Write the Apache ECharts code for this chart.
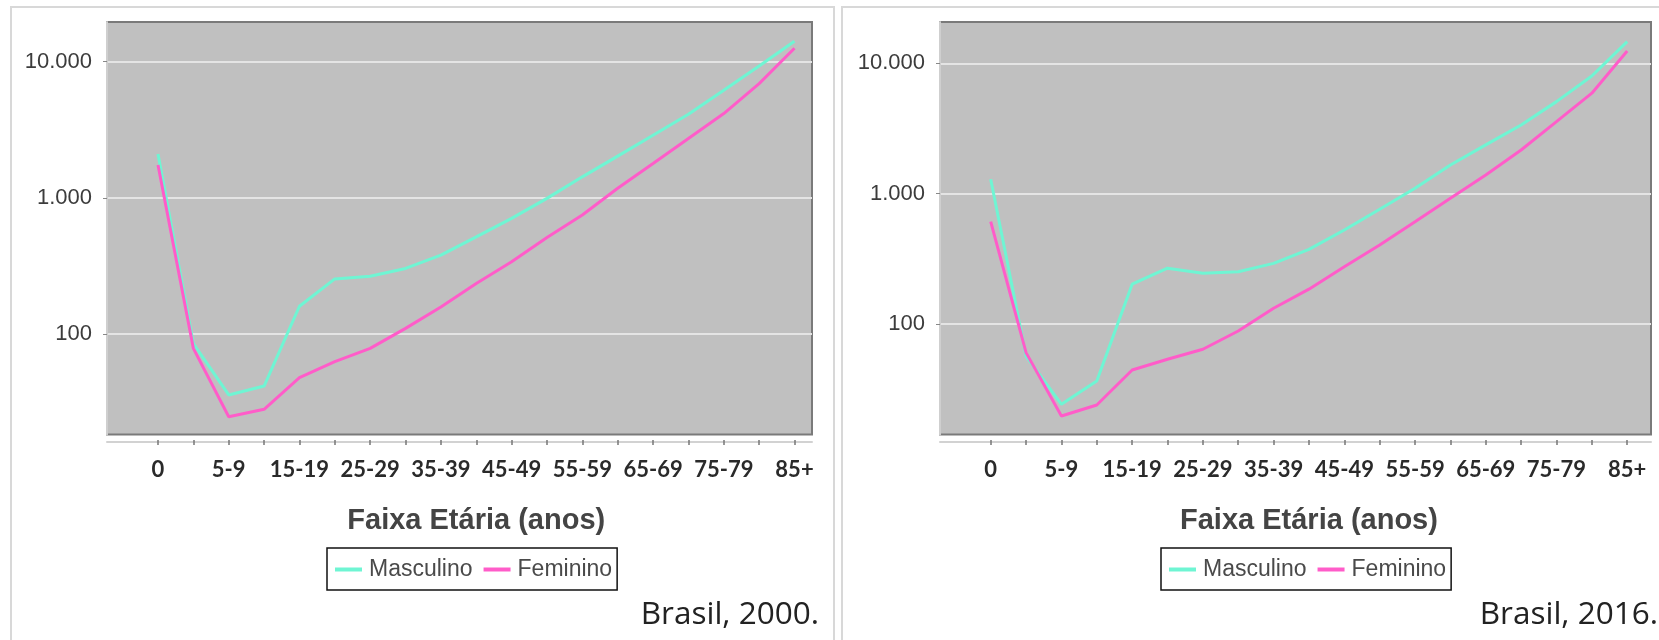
<!DOCTYPE html>
<html><head><meta charset="utf-8">
<script src="https://cdn.jsdelivr.net/npm/echarts@6/dist/echarts.min.js"></script>
<style>html,body{margin:0;padding:0;background:#fff}#c{width:1659px;height:640px}</style>
</head><body><div id="c"></div>
<script>
// ---- data ----
const categories = ['0','1-4','5-9','10-14','15-19','20-24','25-29','30-34','35-39','40-44','45-49','50-54','55-59','60-64','65-69','70-74','75-79','80-84','85+'];
const yTickValues = [100, 1000, 10000];
const seriesNames = ['Masculino', 'Feminino'];
const masc2000 = [2100, 85, 35.7, 41.5, 160, 254, 266, 303, 380, 517, 706, 991, 1426, 2023, 2884, 4111, 6166, 9300, 14090];
const fem2000  = [1740, 78.5, 24.7, 28, 47.8, 62.7, 78.5, 110, 158, 235, 339, 512, 749, 1175, 1787, 2729, 4159, 6900, 12530];
const masc2016 = [1290, 56.8, 24.2, 36.5, 202, 268, 245, 252, 292, 374, 526, 759, 1099, 1660, 2366, 3365, 5083, 8000, 14690];
const fem2016  = [610, 60.3, 19.7, 23.9, 44.4, 53.6, 64, 88.4, 132, 185, 275, 404, 610, 922, 1392, 2163, 3570, 5900, 12450];
const captions = ['Brasil, 2000.', 'Brasil, 2016.'];
const xAxisTitle = 'Faixa Etária (anos)';

// ---- layout ----
const panels = [
  {plotL:107, plotR:812, dataL:158, dataR:794.5, yMin:18.3, yMax:19540, legendL:327, frameX:11, frameW:823, series:[masc2000, fem2000], caption:captions[0]},
  {plotL:940, plotR:1651, dataL:990.7, dataR:1627.2, yMin:14.2, yMax:20750, legendL:1161, frameX:842, frameW:900, series:[masc2016, fem2016], caption:captions[1]}
];
const TOP = 22, H = 412.5;
const colors = ['#6ff5d3', '#ff5cc9'];
const fmt = v => {
  const r = Math.round(v);
  if (yTickValues.indexOf(r) < 0 || Math.abs(v - r) > 1e-6 * r) return '';
  return String(r).replace(/\B(?=(\d{3})+(?!\d))/g, '.');
};

const option = {
  animation: false,
  backgroundColor: '#ffffff',
  grid: [], xAxis: [], yAxis: [], series: [], legend: [], graphic: []
};

panels.forEach((p, k) => {
  const gBg = option.grid.length, gData = gBg + 1;
  option.grid.push({left: p.plotL, top: TOP, width: p.plotR - p.plotL, height: H, show: true,
    backgroundColor: '#c0c0c0', borderColor: '#7a7a7a', borderWidth: 2, containLabel: false});
  option.grid.push({left: p.dataL, top: TOP, width: p.dataR - p.dataL, height: H, containLabel: false});
  // background axes
  option.xAxis.push({gridIndex: gBg, type: 'value', min: 0, max: 1, offset: 7.5,
    axisLine: {show: true, lineStyle: {color: '#d2d2d2', width: 2}},
    axisTick: {show: false}, axisLabel: {show: false}, splitLine: {show: false}});
  option.yAxis.push({gridIndex: gBg, type: 'log', logBase: 10, min: p.yMin, max: p.yMax, offset: 7,
    axisLine: {show: true, lineStyle: {color: '#cfcfcf', width: 2}},
    axisTick: {show: true, length: 4, customValues: yTickValues, lineStyle: {color: '#888', width: 1}},
    axisLabel: {show: true, customValues: yTickValues, formatter: fmt, margin: 8, fontSize: 22,
      fontFamily: '"Liberation Sans", Arial, sans-serif', color: '#3c3c3c', padding: [0, 0, 5, 0]},
    splitLine: {show: true, lineStyle: {color: '#e4e4e4', width: 2}}});
  // data axes
  option.xAxis.push({gridIndex: gData, type: 'category', data: categories, boundaryGap: false, offset: 5.5,
    axisLine: {show: false},
    axisTick: {show: true, length: 5, alignWithLabel: true, interval: 0, lineStyle: {color: '#777', width: 1.5}},
    axisLabel: {show: true, interval: 1, margin: 19, fontSize: 22, fontWeight: 'bold',
      fontFamily: 'Lato, "Open Sans", sans-serif', color: '#2a2a2a'},
    splitLine: {show: false}});
  option.yAxis.push({gridIndex: gData, type: 'log', logBase: 10, min: p.yMin, max: p.yMax, show: false});
  seriesNames.forEach((name, s) => {
    option.series.push({type: 'line', name, xAxisIndex: gData, yAxisIndex: gData, data: p.series[s],
      showSymbol: false, symbol: 'none', smooth: false, color: colors[s],
      lineStyle: {color: colors[s], width: 3}, z: 3 + s});
  });
  option.legend.push({left: p.legendL, top: 548, orient: 'horizontal', data: seriesNames,
    icon: 'rect', itemWidth: 27, itemHeight: 4, itemGap: 11,
    padding: [10, 5, 9, 8], borderColor: '#111', borderWidth: 1.5, backgroundColor: '#fff',
    textStyle: {fontSize: 23, fontFamily: '"Liberation Sans", Arial, sans-serif', color: '#4a4a4a', padding: [0, 0, 0, 2]},
    selectedMode: false});
  option.graphic.push({type: 'rect', silent: true, z: -10,
    shape: {x: p.frameX, y: 7, width: p.frameW, height: 700},
    style: {fill: 'none', stroke: '#d8d8d8', lineWidth: 2}});
  option.graphic.push({type: 'text', silent: true, x: (p.dataL + p.dataR) / 2, y: 521,
    style: {text: xAxisTitle, font: 'bold 29px "Liberation Sans", Arial, sans-serif', fill: '#444',
      textAlign: 'center', textVerticalAlign: 'middle'}});
  option.graphic.push({type: 'text', silent: true, x: p.plotR + 7, y: 615,
    style: {text: p.caption, font: '31.5px "Open Sans", sans-serif', fill: '#222',
      textAlign: 'right', textVerticalAlign: 'middle'}});
});

const chart = echarts.init(document.getElementById('c'), null, {renderer: 'canvas'});
chart.setOption(option);
</script>
</body></html>
